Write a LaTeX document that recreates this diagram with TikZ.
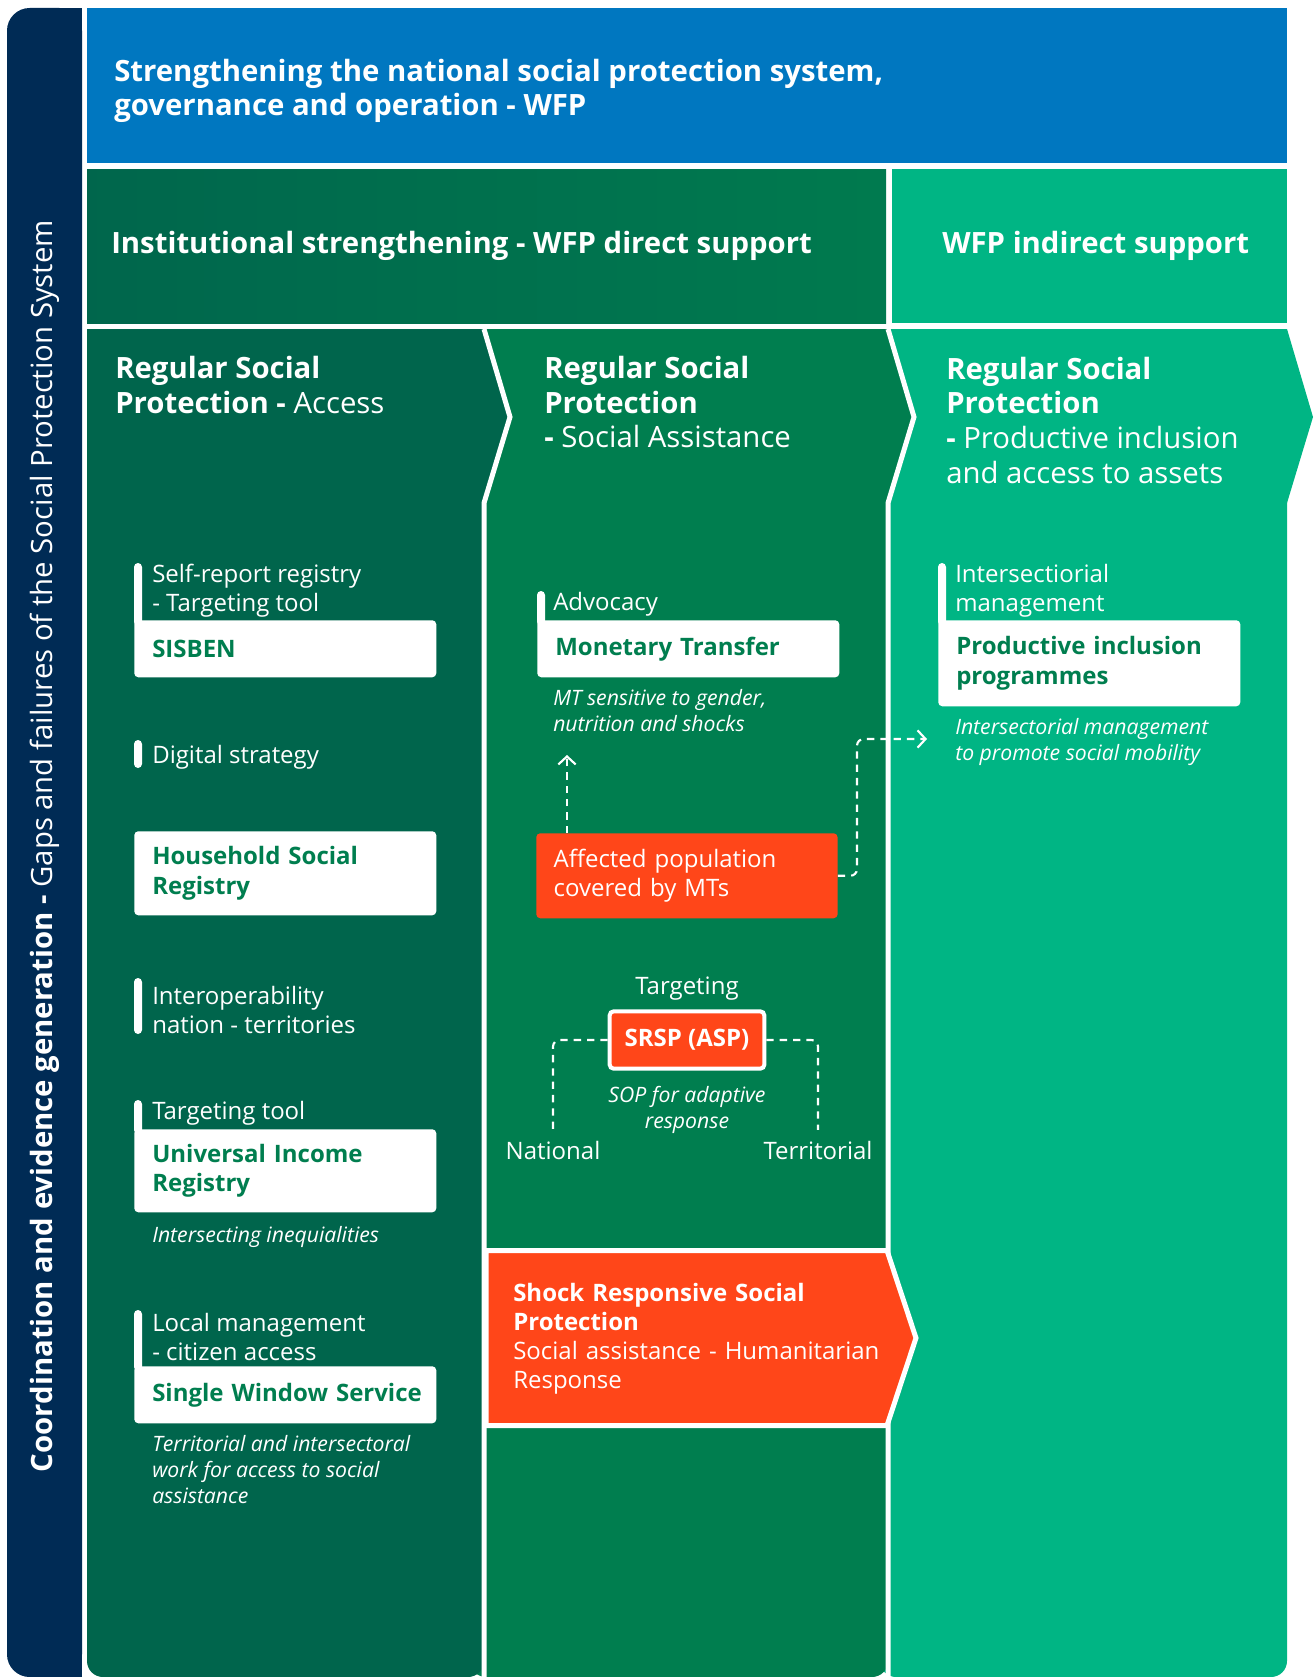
\documentclass[tikz,border=0pt]{standalone}
\usepackage{fontspec}
\setmainfont{Open Sans}
\usetikzlibrary{arrows.meta,positioning}

\definecolor{wfpnavy}{HTML}{002B55}
\definecolor{wfpblue}{HTML}{0077C0}
\definecolor{accessgreen}{HTML}{00654C}
\definecolor{assistgreen}{HTML}{007E4F}
\definecolor{prodgreen}{HTML}{00B584}
\definecolor{shockred}{HTML}{FF4619}

\newcommand{\headfont}{\fontsize{22}{26}\selectfont}
\newcommand{\itemfont}{\fontsize{18}{22}\selectfont}
\newcommand{\notefont}{\fontsize{15.9}{19.5}\selectfont\itshape}

\tikzset{
  head/.style={text=white, font=\headfont\bfseries, align=left, anchor=west, inner sep=0pt},
  tag/.style={text=white, font=\itemfont, align=left, anchor=west, inner sep=0pt},
  note/.style={text=white, font=\notefont, align=left, anchor=north west, inner sep=0pt},
  card/.style={fill=white, rounded corners=3pt, anchor=north west, text=assistgreen,
    font=\itemfont\bfseries, text width=199.5pt, inner xsep=13.5pt, inner ysep=0pt, align=left},
  tagbar/.style={fill=white, rounded corners=3pt},
  edge/.style={white, line width=3.75pt},
  link/.style={white, line width=1.6pt, dash pattern=on 5.5pt off 4.5pt, rounded corners=5pt},
  flow/.style={link, -{Straight Barb[length=6pt,width=13pt,line width=1.6pt]}}
}

\begin{document}
\begin{tikzpicture}[x=0.75pt,y=-0.75pt]
\useasboundingbox (0,0) rectangle (1314,1677);

\fill[wfpnavy, rounded corners=17pt] (7,8) rectangle (82,1677);
\fill[wfpnavy] (45,8) rectangle (82,1677);
\node[rotate=90, text=white, font=\fontsize{22}{26}\selectfont, inner sep=0pt] (side) at (45,846)
  {\textbf{Coordination and evidence generation -} Gaps and failures of the Social Protection System};

\fill[wfpblue] (87,8) rectangle (1287,163);
\shade[left color=accessgreen!95!assistgreen, right color=assistgreen!85!accessgreen] (87,169) rectangle (886,323);
\fill[prodgreen] (892,169) rectangle (1287,323);

\node[head] (title) at (114,91) {Strengthening the national social protection system,\\governance and operation - WFP};
\node[head] (directhd) at (111,246) {Institutional strengthening - WFP direct support};
\node[head] (indirecthd) at (942,246) {WFP indirect support};

\fill[prodgreen] (880,329) -- (1287,329) -- (1313,417) -- (1287,503) -- (880,503) -- cycle;
\fill[prodgreen, rounded corners=12pt] (880,480) rectangle (1287,1677);

\fill[assistgreen] (470,329) -- (888,329) -- (914,417) -- (888,503) -- (470,503) -- cycle;
\fill[assistgreen, rounded corners=12pt] (470,480) rectangle (888,1677);
\draw[edge] (888,329) -- (914,417) -- (888,503) -- (888,1677);

\fill[accessgreen] (87,329) -- (484,329) -- (510,417) -- (484,503) -- (87,503) -- cycle;
\fill[accessgreen, rounded corners=12pt] (87,480) rectangle (484,1677);
\draw[edge] (484,329) -- (510,417) -- (484,503) -- (484,1677);

\node[head] (accesshd) at (115,385) {Regular Social\\Protection - \mdseries Access};
\node[head] (assisthd) at (544,402) {Regular Social\\Protection\\- \mdseries Social Assistance};
\node[head] (prodhd) at (946,420) {Regular Social\\Protection\\- \mdseries Productive inclusion\\\mdseries and access to assets};

\node[tag] (selfrep) at (152,591) {Self-report registry\\- Targeting tool};
\fill[tagbar] (134,563) rectangle (142,626);
\node[card, minimum height=42.75pt] (sisben) at (134,620) {SISBEN};

\node[tag] (digital) at (152,757) {Digital strategy};
\fill[tagbar] (134,740) rectangle (142,768);

\node[card, minimum height=63pt] (household) at (134,831) {Household Social\\Registry};

\node[tag] (interop) at (152,1010) {Interoperability\\nation - territories};
\fill[tagbar] (134,978) rectangle (142,1034);

\node[tag] (tgttool) at (152,1113) {Targeting tool};
\fill[tagbar] (134,1100) rectangle (142,1134);
\node[card, minimum height=62.25pt] (univ) at (134,1129) {Universal Income\\Registry};
\node[note, below right=10pt and 13.5pt of univ.south west] (ineq) {Intersecting inequialities};

\node[tag] (localmgmt) at (152,1337) {Local management\\- citizen access};
\fill[tagbar] (134,1310) rectangle (142,1371);
\node[card, minimum height=42.75pt] (window) at (134,1366) {\mbox{Single Window Service}};
\node[note, below right=9pt and 13.5pt of window.south west] (terrwork) {Territorial and intersectoral\\work for access to social\\assistance};

\node[tag] (advocacy) at (553,604) {Advocacy};
\fill[tagbar] (537,591) rectangle (545,626);
\node[card, minimum height=42.75pt] (monetary) at (537,620) {Monetary Transfer};
\node[note, below right=9pt and 12pt of monetary.south west] (mtnote) {MT sensitive to gender,\\nutrition and shocks};

\node[tag, fill=shockred, rounded corners=3pt, anchor=north west, text width=200pt,
  inner xsep=13pt, minimum height=63.75pt] (affected) at (536,833) {Affected population\\covered by MTs};

\coordinate (mtin) at (567,755);
\draw[flow] (affected.north -| mtin) -- (mtin);
\coordinate (prodin) at (927,739);
\draw[flow] (affected.east) -| (857,739) -- (prodin);

\node[tag, anchor=center] (srsptgt) at (687,989) {Targeting};
\node[fill=shockred, draw=white, line width=3pt, rounded corners=3pt, text=white,
  font=\itemfont\bfseries, minimum width=116pt, minimum height=43pt] (srsp) at (687,1040) {SRSP (ASP)};
\node[note, anchor=center, align=center] (sop) at (687,1110) {SOP for adaptive\\response};
\node[tag, anchor=center, inner ysep=8pt] (natl) at (553,1150) {National};
\node[tag, anchor=center, inner ysep=8pt] (terr) at (818,1150) {Territorial};
\draw[link] (srsp.west) -| (natl.north);
\draw[link] (srsp.east) -| (terr.north);

\filldraw[fill=shockred, draw=white, line width=3.75pt]
  (486,1250.5) -- (887,1250.5) -- (916,1338) -- (887,1425.5) -- (486,1425.5) -- cycle;
\node[tag, text width=300pt, font=\fontsize{18}{21.75}\selectfont] (shock) at (513,1339)
  {\textbf{Shock Responsive Social}\\\textbf{Protection}\\Social assistance - Humanitarian\\Response};

\node[tag] (intersect) at (955,591) {Intersectiorial\\management};
\fill[tagbar] (938,563) rectangle (946,626);
\node[card, minimum height=64.5pt] (prodprog) at (938,620) {Productive inclusion\\programmes};
\node[note, below right=9pt and 12.75pt of prodprog.south west] (mobility) {Intersectorial management\\to promote social mobility};
\end{tikzpicture}
\end{document}
